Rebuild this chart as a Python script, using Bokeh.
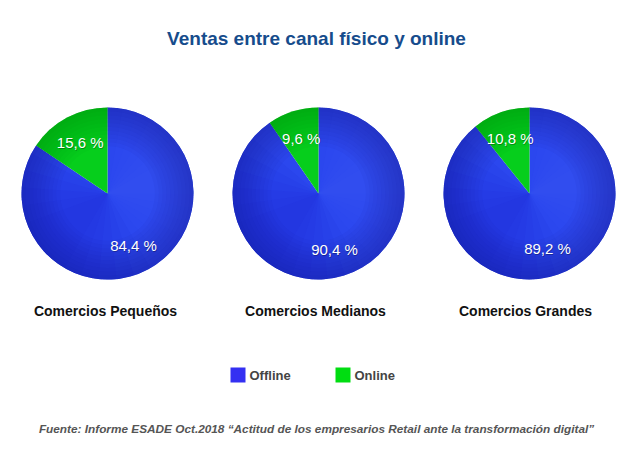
import math
from bokeh.plotting import figure
from bokeh.models import Range1d, ColumnDataSource
from bokeh.core.properties import value
from bokeh.embed import file_html
from bokeh.resources import INLINE

# ---- data ----
categories = ["Comercios Pequeños", "Comercios Medianos", "Comercios Grandes"]
offline = [84.4, 90.4, 89.2]
online = [15.6, 9.6, 10.8]
offline_labels = ["84,4 %", "90,4 %", "89,2 %"]
online_labels = ["15,6 %", "9,6 %", "10,8 %"]
series_names = ["Offline", "Online"]
title_text = "Ventas entre canal físico y online"
source_text = "Fuente: Informe ESADE Oct.2018 \u201cActitud de los empresarios Retail ante la transformación digital\u201d"

# ---- layout / style ----
W, H = 620, 459
def X(ix):
    return ix
def Y(iy):
    return H - iy

centers_x = [X(107), X(318), X(529)]
center_y = Y(193)
R = 86
off_label_dx = [26, 16, 18]
off_label_dy = [-52, -56, -55]
BLUE = "#2B47EE"
GREEN = "#06CE1C"
FONT = "Liberation Sans"

p = figure(width=W, height=H, output_backend="svg", toolbar_location=None,
           x_range=Range1d(0, W), y_range=Range1d(0, H), min_border=0)
p.axis.visible = False
p.grid.visible = False
p.outline_line_color = None
p.background_fill_color = "white"
p.border_fill_color = "white"

# wedge angles from data
on_start, on_end, off_start, off_end = [], [], [], []
for i in range(len(categories)):
    tot = offline[i] + online[i]
    a_on = 2 * math.pi * online[i] / tot
    on_start.append(math.pi / 2)
    on_end.append(math.pi / 2 + a_on)
    off_start.append(math.pi / 2 + a_on)
    off_end.append(math.pi / 2 + 2 * math.pi)

src = ColumnDataSource(dict(x=centers_x, y=[center_y] * 3,
                            on_s=on_start, on_e=on_end, off_s=off_start, off_e=off_end))

# base slices
p.wedge(x="x", y="y", radius=R, start_angle="off_s", end_angle="off_e",
        fill_color=BLUE, line_color=None, source=src)
p.wedge(x="x", y="y", radius=R, start_angle="on_s", end_angle="on_e",
        fill_color=GREEN, line_color=None, source=src)

# directional shading inside the offline slice (darker lower-left, lighter right)
def clipped(center_deg, half_deg):
    s, e = [], []
    for i in range(len(categories)):
        a = math.radians(center_deg - half_deg)
        b = math.radians(center_deg + half_deg)
        s.append(max(a, off_start[i]))
        e.append(min(b, off_end[i]))
    return s, e

for k in range(6):
    s, e = clipped(220, 20 + 12 * k)
    p.wedge(x=centers_x, y=[center_y] * 3, radius=R, start_angle=s, end_angle=e,
            fill_color="#1C12C0", fill_alpha=0.05, line_color=None)
    s, e = clipped(375, 15 + 10 * k)
    p.wedge(x=centers_x, y=[center_y] * 3, radius=R, start_angle=s, end_angle=e,
            fill_color="#3E6BFF", fill_alpha=0.06, line_color=None)

# smooth radial shading: darker toward the rim
n_rings = 10
for k in range(n_rings):
    r0 = 0.55 + 0.45 * k / n_rings
    p.annular_wedge(x="x", y="y", inner_radius=R * r0, outer_radius=R,
                    start_angle="off_s", end_angle="off_e", fill_color="#12188A",
                    fill_alpha=0.045, line_color=None, source=src)
    p.annular_wedge(x="x", y="y", inner_radius=R * r0, outer_radius=R,
                    start_angle="on_s", end_angle="on_e", fill_color="#006A08",
                    fill_alpha=0.035, line_color=None, source=src)

# percentage labels
lab_on_x, lab_on_y, lab_off_x, lab_off_y = [], [], [], []
for i in range(len(categories)):
    mid = (on_start[i] + on_end[i]) / 2
    lab_on_x.append(centers_x[i] + 58 * math.cos(mid))
    lab_on_y.append(center_y + 58 * math.sin(mid))
    lab_off_x.append(centers_x[i] + off_label_dx[i])
    lab_off_y.append(center_y + off_label_dy[i])
lsrc = ColumnDataSource(dict(ox=lab_off_x, oy=lab_off_y, nx=lab_on_x, ny=lab_on_y,
                             ot=offline_labels, nt=online_labels))
for dx, dy, col, alpha in [(0.8, 0.8, "#000000", 0.3), (0, 0, "white", 1.0)]:
    for xs, ys, ts in [("ox", "oy", "ot"), ("nx", "ny", "nt")]:
        p.text(x=xs, y=ys, text=ts, source=lsrc, x_offset=dx, y_offset=dy,
               text_font=value(FONT), text_font_size="15px", text_color=col,
               text_alpha=alpha, text_align="center", text_baseline="middle")

# category labels
p.text(x=[X(105), X(315), X(525)], y=[Y(310)] * 3, text=categories,
       text_font=value(FONT), text_font_size="14px", text_font_style="bold",
       text_color="#111111", text_align="center", text_baseline="middle")

# title
p.text(x=[X(316)], y=[Y(38)], text=[title_text], text_font=value(FONT),
       text_font_size="19px", text_font_style="bold", text_color="#164C8C",
       text_align="center", text_baseline="middle")

# legend
p.rect(x=[X(237.5), X(342.5)], y=[Y(374.5)] * 2, width=15, height=15,
       fill_color=["#3430F2", "#00DD11"], line_color=None)
p.text(x=[X(249), X(354)], y=[Y(375)] * 2, text=series_names,
       text_font=value(FONT), text_font_size="13px", text_font_style="bold",
       text_color="#444444", text_align="left", text_baseline="middle")

# source note
p.text(x=[X(316)], y=[Y(428)], text=[source_text], text_font=value(FONT),
       text_font_size="11.8px", text_font_style="bold italic", text_color="#555555",
       text_align="center", text_baseline="middle")

open("out.html", "w").write(file_html(p, INLINE))
